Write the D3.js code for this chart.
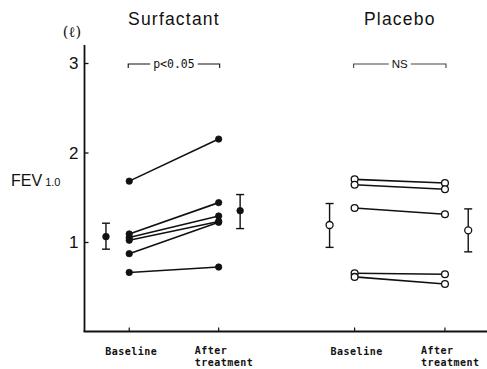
<!DOCTYPE html>
<html>
<head>
<meta charset="utf-8">
<script src="https://cdn.jsdelivr.net/npm/d3@7"></script>
<style>
  html, body { margin: 0; padding: 0; background: #fff; }
  svg { display: block; }
</style>
</head>
<body>
<svg id="chart" width="487" height="369"></svg>
<script>
// FEV1.0 (litres) per patient, before and after treatment
const groups = ["Surfactant", "Placebo"];
const timepoints = ["Baseline", "After\ntreatment"];

const surfactantBaseline = [1.68, 1.09, 1.05, 1.02, 0.87, 0.66];
const surfactantAfter    = [2.15, 1.44, 1.29, 1.23, 1.22, 0.72];

const placeboBaseline = [1.70, 1.64, 1.38, 0.65, 0.61];
const placeboAfter    = [1.66, 1.59, 1.31, 0.64, 0.53];

// group means with error bars: [mean, lower, upper]
const surfactantMeans = [[1.06, 0.92, 1.21], [1.35, 1.15, 1.53]];
const placeboMeans    = [[1.19, 0.94, 1.43], [1.13, 0.89, 1.37]];

const significance = ["p<0.05", "NS"];
const yTicks = [1, 2, 3];

// horizontal slots: patient columns and mean-bar columns
const slotPatients = [[1, 2], [3.52, 4.53]];
const slotMeans    = [[0.74, 2.24], [3.24, 4.79]];

const svg = d3.select("#chart");
const x = d3.scaleLinear().domain([0.5, 5]).range([84.5, 487]);
const y = d3.scaleLinear().domain([0, 3]).range([331.5, 63]);

const ink = "#111";
const sans = "Liberation Sans, Arial, sans-serif";
const mono = "DejaVu Sans Mono, monospace";

// axes
svg.append("line")
  .attr("x1", x(0.5)).attr("x2", x(0.5))
  .attr("y1", y(0)).attr("y2", y(3.2))
  .attr("stroke", ink).attr("stroke-width", 1.8);
svg.append("line")
  .attr("x1", x(0.5) - 1).attr("x2", x(5))
  .attr("y1", y(0)).attr("y2", y(0))
  .attr("stroke", ink).attr("stroke-width", 1.8);

// y ticks pointing inward
const yAxis = d3.axisRight(y).tickValues(yTicks).tickSize(4).tickFormat("");
const yg = svg.append("g").attr("transform", `translate(${x(0.5)},0)`).call(yAxis);
yg.select(".domain").remove();
yg.selectAll("line").attr("stroke", ink).attr("stroke-width", 1.3);

svg.append("g").selectAll("text").data(yTicks).join("text")
  .attr("x", x(0.5) - 6).attr("y", d => y(d) + 6)
  .attr("text-anchor", "end")
  .attr("font-family", "Liberation Sans Narrow, Liberation Sans, sans-serif")
  .attr("font-size", 17)
  .attr("fill", ink)
  .text(d => d);

// unit label
svg.append("text")
  .attr("x", 72).attr("y", 37)
  .attr("text-anchor", "middle")
  .attr("font-family", "DejaVu Serif, serif")
  .attr("font-size", 14.5).attr("fill", ink)
  .text("(ℓ)");

// FEV1.0 label
const fev = svg.append("text")
  .attr("x", 11).attr("y", 186)
  .attr("font-family", sans)
  .attr("fill", ink);
fev.append("tspan").attr("font-size", 16).text("FEV");
fev.append("tspan").attr("font-size", 11).attr("dx", 3).text("1.0");

// x ticks pointing inward (up)
const allSlots = slotPatients.flat();
svg.append("g").selectAll("line").data(allSlots).join("line")
  .attr("x1", d => x(d)).attr("x2", d => x(d))
  .attr("y1", y(0)).attr("y2", y(0) - 4)
  .attr("stroke", ink).attr("stroke-width", 1.2);

// x tick labels
slotPatients.forEach(pair => {
  svg.append("text")
    .attr("x", x(pair[0]) + 2).attr("y", 355)
    .attr("text-anchor", "middle")
    .attr("font-family", mono).attr("font-weight", "bold")
    .attr("font-size", 10).attr("letter-spacing", 0.5).attr("fill", ink)
    .text(timepoints[0]);
  const lines = timepoints[1].split("\n");
  lines.forEach((t, i) => {
    svg.append("text")
      .attr("x", x(pair[1]) - 24).attr("y", 354 + i * 12)
      .attr("font-family", mono).attr("font-weight", "bold")
      .attr("font-size", 10).attr("letter-spacing", 0.5).attr("fill", ink)
      .text(t);
  });
});

// group titles
groups.forEach((g, i) => {
  svg.append("text")
    .attr("x", (x(slotPatients[i][0]) + x(slotPatients[i][1])) / 2)
    .attr("y", 25)
    .attr("text-anchor", "middle")
    .attr("font-family", sans)
    .attr("font-size", 17.5).attr("letter-spacing", 1.2)
    .attr("fill", ink)
    .text(g);
});

// significance brackets
significance.forEach((s, i) => {
  const x0 = x(slotPatients[i][0]) - 1, x1 = x(slotPatients[i][1]) + 1;
  const by = 64;
  const label = svg.append("text")
    .attr("x", (x0 + x1) / 2).attr("y", by + 4)
    .attr("text-anchor", "middle")
    .attr("font-family", i === 0 ? mono : sans)
    .attr("font-size", 11.5)
    .attr("fill", ink)
    .text(s);
  const w = label.node().getComputedTextLength();
  const cx = (x0 + x1) / 2;
  const gap = 3;
  const col = i === 0 ? ink : "#444";
  svg.append("path")
    .attr("d", `M${x0},${by + 4}V${by}H${cx - w / 2 - gap}`)
    .attr("fill", "none").attr("stroke", col).attr("stroke-width", 1.1);
  svg.append("path")
    .attr("d", `M${cx + w / 2 + gap},${by}H${x1}V${by + 4}`)
    .attr("fill", "none").attr("stroke", col).attr("stroke-width", 1.1);
});

// patient lines and points
function drawPairs(base, after, slots, filled) {
  const g = svg.append("g");
  const pairs = d3.zip(base, after);
  g.selectAll("line").data(pairs).join("line")
    .attr("x1", x(slots[0])).attr("x2", x(slots[1]))
    .attr("y1", d => y(d[0])).attr("y2", d => y(d[1]))
    .attr("stroke", ink).attr("stroke-width", 1.6);
  const pts = [];
  pairs.forEach(p => { pts.push([slots[0], p[0]]); pts.push([slots[1], p[1]]); });
  g.selectAll("circle").data(pts).join("circle")
    .attr("cx", d => x(d[0])).attr("cy", d => y(d[1]))
    .attr("r", filled ? 3.2 : 3.4)
    .attr("fill", filled ? ink : "#fff")
    .attr("stroke", ink).attr("stroke-width", filled ? 0.8 : 1.3);
}
drawPairs(surfactantBaseline, surfactantAfter, slotPatients[0], true);
drawPairs(placeboBaseline, placeboAfter, slotPatients[1], false);

// mean ± error bars
function drawMeans(means, slots, filled) {
  const g = svg.append("g");
  means.forEach((m, i) => {
    const cx = x(slots[i]);
    g.append("line").attr("x1", cx).attr("x2", cx)
      .attr("y1", y(m[1])).attr("y2", y(m[2]))
      .attr("stroke", ink).attr("stroke-width", 1.4);
    [m[1], m[2]].forEach(v => {
      g.append("line").attr("x1", cx - 4).attr("x2", cx + 4)
        .attr("y1", y(v)).attr("y2", y(v))
        .attr("stroke", ink).attr("stroke-width", 1.4);
    });
    g.append("circle").attr("cx", cx).attr("cy", y(m[0]))
      .attr("r", filled ? 3.3 : 3.5)
      .attr("fill", filled ? ink : "#fff")
      .attr("stroke", ink).attr("stroke-width", filled ? 0.8 : 1.3);
  });
}
drawMeans(surfactantMeans, slotMeans[0], true);
drawMeans(placeboMeans, slotMeans[1], false);
</script>
</body>
</html>
